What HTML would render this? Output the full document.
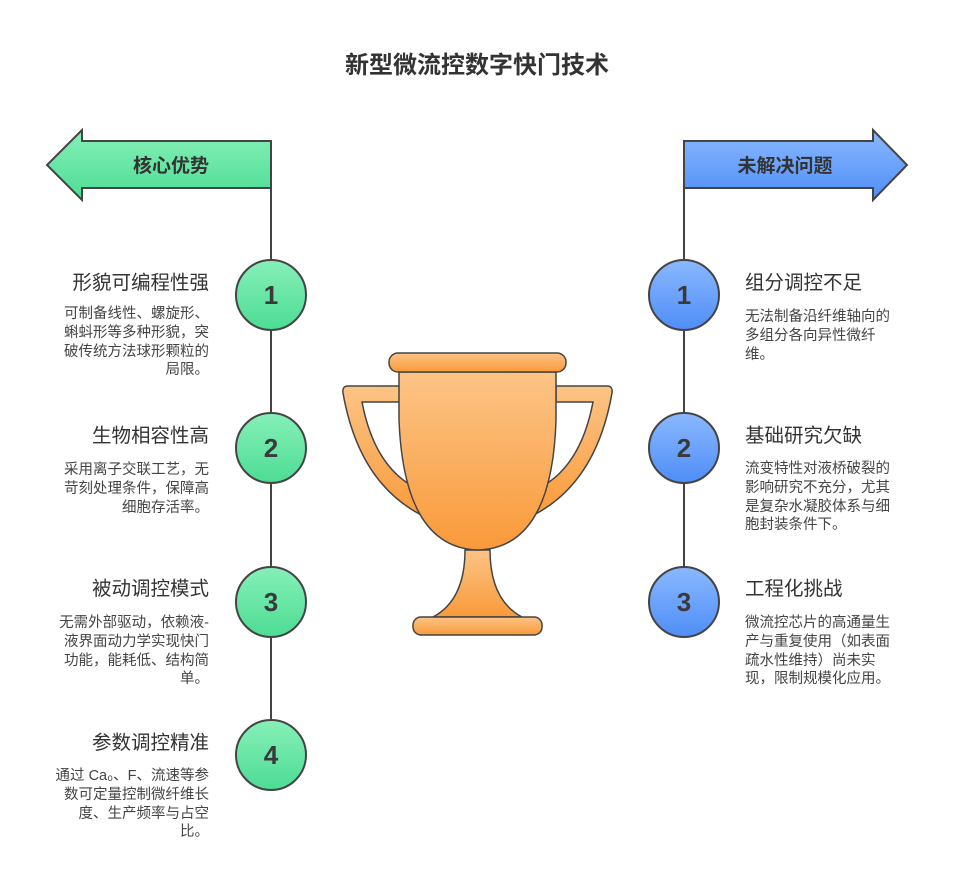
<!DOCTYPE html>
<html><head><meta charset="utf-8"><style>
body{margin:0;background:#fff;width:955px;height:878px;overflow:hidden;font-family:"Liberation Sans","Noto Sans CJK SC",sans-serif;}
.t{position:absolute;font-size:19.5px;color:#333;white-space:nowrap;line-height:22px}
.d{position:absolute;font-size:14.5px;color:#444;line-height:18.8px;white-space:nowrap}
.l{text-align:right}
</style></head><body>
<svg width="955" height="878" style="position:absolute;left:0;top:0">
<defs>
<linearGradient id="g" x1="0" y1="0" x2="0" y2="1"><stop offset="0" stop-color="#86f0b8"/><stop offset="1" stop-color="#4ddc94"/></linearGradient>
<linearGradient id="b" x1="0" y1="0" x2="0" y2="1"><stop offset="0" stop-color="#8ab8ff"/><stop offset="1" stop-color="#4f8ef7"/></linearGradient>
<linearGradient id="o" x1="0" y1="0" x2="0" y2="1"><stop offset="0" stop-color="#fcc486"/><stop offset="1" stop-color="#f99a3a"/></linearGradient>
</defs>
<g stroke="#444" stroke-width="2">
<line x1="271" y1="188" x2="271" y2="755"/>
<line x1="684" y1="188" x2="684" y2="602"/>
<polygon points="271,141 82,141 82,130 47,165 82,200 82,188 271,188" fill="url(#g)"/>
<polygon points="684,141 873,141 873,130 907,165 873,200 873,188 684,188" fill="url(#b)"/>
<circle cx="271" cy="295" r="35" fill="url(#g)"/>
<circle cx="271" cy="448" r="35" fill="url(#g)"/>
<circle cx="271" cy="602" r="35" fill="url(#g)"/>
<circle cx="271" cy="755" r="35" fill="url(#g)"/>
<circle cx="684" cy="295" r="35" fill="url(#b)"/>
<circle cx="684" cy="448" r="35" fill="url(#b)"/>
<circle cx="684" cy="602" r="35" fill="url(#b)"/>
</g>
<g stroke="#444" stroke-width="1.5" fill="url(#o)">
<path d="M400,386 L348,386 Q342,386 343,393 Q360,490 432,520 L420,490 Q375,470 362,402 L400,402 Z"/>
<path d="M556,386 L607,386 Q613,386 612,393 Q595,490 523,520 L535,490 Q580,470 593,402 L556,402 Z"/>
<path d="M465,550 L490,550 Q490,600 522,617 L433,617 Q465,600 465,550 Z"/>
<rect x="413" y="617" width="129" height="18" rx="8"/>
<path d="M399,372 L556,372 L556,420 Q552,548 478,550 Q404,548 399,420 Z"/>
<rect x="389" y="353" width="177" height="19" rx="9"/>
</g>
<g font-family="Liberation Sans,sans-serif" font-weight="bold" font-size="26" fill="#3a3a3a" text-anchor="middle">
<text x="271" y="304">1</text><text x="271" y="457">2</text><text x="271" y="611">3</text><text x="271" y="764">4</text>
<text x="684" y="304">1</text><text x="684" y="457">2</text><text x="684" y="611">3</text>
</g>
<g font-family="Liberation Sans,Noto Sans CJK SC,sans-serif" font-weight="bold" fill="#333" text-anchor="middle">
<text x="477" y="73" font-size="24">新型微流控数字快门技术</text>
<text x="171" y="172" font-size="19">核心优势</text>
<text x="785" y="172" font-size="19">未解决问题</text>
</g>
</svg>
<div class="t l" style="right:746px;top:272px">形貌可编程性强</div>
<div class="d l" style="right:746px;top:305px">可制备线性、螺旋形、<br>蝌蚪形等多种形貌，突<br>破传统方法球形颗粒的<br>局限。</div>
<div class="t l" style="right:746px;top:425px">生物相容性高</div>
<div class="d l" style="right:746px;top:461px">采用离子交联工艺，无<br>苛刻处理条件，保障高<br>细胞存活率。</div>
<div class="t l" style="right:746px;top:578px">被动调控模式</div>
<div class="d l" style="right:746px;top:614px">无需外部驱动，依赖液-<br>液界面动力学实现快门<br>功能，能耗低、结构简<br>单。</div>
<div class="t l" style="right:746px;top:732px">参数调控精准</div>
<div class="d l" style="right:746px;top:767px">通过 Ca₀、F、流速等参<br>数可定量控制微纤维长<br>度、生产频率与占空<br>比。</div>
<div class="t" style="left:745px;top:272px">组分调控不足</div>
<div class="d" style="left:745px;top:308px">无法制备沿纤维轴向的<br>多组分各向异性微纤<br>维。</div>
<div class="t" style="left:745px;top:425px">基础研究欠缺</div>
<div class="d" style="left:745px;top:460px">流变特性对液桥破裂的<br>影响研究不充分，尤其<br>是复杂水凝胶体系与细<br>胞封装条件下。</div>
<div class="t" style="left:745px;top:578px">工程化挑战</div>
<div class="d" style="left:745px;top:614px">微流控芯片的高通量生<br>产与重复使用（如表面<br>疏水性维持）尚未实<br>现，限制规模化应用。</div>
</body></html>
